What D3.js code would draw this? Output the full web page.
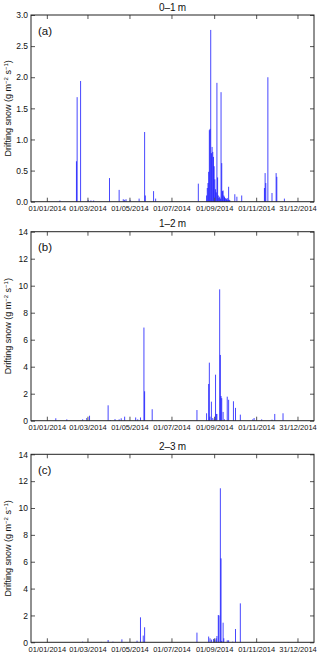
<!DOCTYPE html>
<html>
<head>
<meta charset="utf-8">
<script src="https://cdn.jsdelivr.net/npm/d3@7"></script>
<style>
  body { margin: 0; background: #fff; }
  svg { display: block; font-family: "Liberation Sans", Arial, sans-serif; }
</style>
</head>
<body>
<div id="chart"></div>
<script>
// Drifting snow flux, three height levels, 2014
const xTickDates = ["2014-01-01", "2014-03-01", "2014-05-01", "2014-07-01", "2014-09-01", "2014-11-01", "2014-12-31"];
const xDomain = ["2013-12-09", "2015-01-24"];

const ticksA = [0, 0.5, 1.0, 1.5, 2.0, 2.5, 3.0];
const ticksBC = [0, 2, 4, 6, 8, 10, 12, 14];

const titles = ["0\u20131\u2009m", "1\u20132\u2009m", "2\u20133\u2009m"];
const panelLabels = ["(a)", "(b)", "(c)"];

// [date, g m-2 s-1]
const snow01 = [
  ["2014-01-20", 0.02], ["2014-02-13", 0.65], ["2014-02-14", 1.68], ["2014-02-19", 1.94],
  ["2014-03-02", 0.03], ["2014-03-06", 0.02], ["2014-03-10", 0.02],
  ["2014-04-02", 0.38], ["2014-04-16", 0.19], ["2014-04-22", 0.04], ["2014-04-24", 0.03], ["2014-04-26", 0.04],
  ["2014-05-02", 0.03], ["2014-05-15", 0.05], ["2014-05-23", 1.12], ["2014-05-24", 0.10],
  ["2014-06-05", 0.17], ["2014-06-08", 0.05], ["2014-07-02", 0.01], ["2014-08-09", 0.29],
  ["2014-08-21", 0.10], ["2014-08-22", 0.22], ["2014-08-23", 0.30], ["2014-08-24", 0.48],
  ["2014-08-25", 1.15], ["2014-08-26", 1.17], ["2014-08-27", 2.76], ["2014-08-28", 0.78],
  ["2014-08-29", 0.88], ["2014-08-30", 0.80], ["2014-08-31", 0.72], ["2014-09-01", 0.57],
  ["2014-09-02", 0.36], ["2014-09-03", 0.20], ["2014-09-04", 0.15], ["2014-09-05", 1.91],
  ["2014-09-06", 0.39], ["2014-09-07", 0.10], ["2014-09-08", 0.06], ["2014-09-09", 0.08],
  ["2014-09-10", 0.05], ["2014-09-11", 1.76], ["2014-09-12", 0.62], ["2014-09-13", 0.17],
  ["2014-09-14", 0.18], ["2014-09-15", 0.10], ["2014-09-16", 0.08], ["2014-09-17", 0.06],
  ["2014-09-18", 0.05], ["2014-09-19", 0.04], ["2014-09-20", 0.06], ["2014-09-21", 0.03],
  ["2014-09-22", 0.24], ["2014-09-23", 0.03], ["2014-09-24", 0.02],
  ["2014-10-01", 0.12], ["2014-10-04", 0.08], ["2014-10-11", 0.10],
  ["2014-11-13", 0.22], ["2014-11-14", 0.46], ["2014-11-15", 0.30], ["2014-11-18", 2.00],
  ["2014-11-24", 0.14], ["2014-11-30", 0.46], ["2014-12-01", 0.40], ["2014-12-12", 0.05]
];

const snow12 = [
  ["2014-01-14", 0.18], ["2014-01-30", 0.10], ["2014-02-22", 0.10], ["2014-02-28", 0.20], ["2014-03-04", 0.37],
  ["2014-03-31", 1.14], ["2014-04-03", 0.05], ["2014-04-10", 0.12], ["2014-04-16", 0.10], ["2014-04-19", 0.18],
  ["2014-04-24", 0.30], ["2014-05-10", 0.24], ["2014-05-13", 0.10], ["2014-05-17", 0.24],
  ["2014-05-22", 6.90], ["2014-05-23", 2.18], ["2014-06-03", 0.85],
  ["2014-08-07", 0.79], ["2014-08-21", 0.55], ["2014-08-24", 2.72], ["2014-08-25", 4.30], ["2014-08-26", 0.30],
  ["2014-08-28", 1.41], ["2014-08-30", 0.20], ["2014-09-01", 0.10], ["2014-09-03", 3.41], ["2014-09-04", 0.50],
  ["2014-09-05", 0.50], ["2014-09-09", 9.73], ["2014-09-10", 4.87], ["2014-09-11", 1.83], ["2014-09-12", 1.67],
  ["2014-09-14", 0.65], ["2014-09-16", 0.10], ["2014-09-20", 1.78], ["2014-09-22", 1.55], ["2014-09-29", 1.44],
  ["2014-10-02", 0.95], ["2014-10-09", 0.45], ["2014-10-27", 0.10], ["2014-10-29", 0.20], ["2014-11-09", 0.10],
  ["2014-11-24", 0.08], ["2014-11-28", 0.50], ["2014-12-10", 0.55]
];

const snow23 = [
  ["2014-02-22", 0.05], ["2014-03-21", 0.03], ["2014-03-31", 0.17], ["2014-04-07", 0.05], ["2014-04-20", 0.22],
  ["2014-05-12", 0.12], ["2014-05-17", 1.86], ["2014-05-21", 0.50], ["2014-05-23", 1.12],
  ["2014-08-07", 0.72], ["2014-08-24", 0.43], ["2014-08-26", 0.30], ["2014-08-28", 0.20], ["2014-08-31", 0.25],
  ["2014-09-02", 0.20], ["2014-09-04", 0.30], ["2014-09-05", 0.47], ["2014-09-07", 2.03], ["2014-09-08", 2.00],
  ["2014-09-10", 11.47], ["2014-09-11", 6.25], ["2014-09-12", 0.10], ["2014-09-14", 1.46], ["2014-09-15", 0.30],
  ["2014-09-20", 0.15], ["2014-09-22", 0.15], ["2014-09-28", 0.05], ["2014-10-02", 0.99], ["2014-10-09", 2.90],
  ["2014-12-18", 0.02]
];

const parseDate = d3.timeParse("%Y-%m-%d");
const width = 320;
const height = 655;

const svg = d3.select("#chart")
  .append("svg")
  .attr("width", width)
  .attr("height", height);

const xScale = d3.scaleTime()
  .domain(xDomain.map(parseDate))
  .range([31, 314]);

const panels = [
  { data: snow01, top: 15, bottom: 201.7, max: 3, ticks: ticksA, fmt: d3.format(".1f") },
  { data: snow12, top: 231.7, bottom: 420.7, max: 14, ticks: ticksBC, fmt: d3.format("d") },
  { data: snow23, top: 454.3, bottom: 642.3, max: 14, ticks: ticksBC, fmt: d3.format("d") }
];

panels.forEach((p, i) => {
  const g = svg.append("g");
  const yScale = d3.scaleLinear().domain([0, p.max]).range([p.bottom, p.top]);
  const [x0, x1] = xScale.range();

  // bars (thin spikes)
  const bw = 1;
  g.selectAll("rect.bar")
    .data(p.data)
    .enter()
    .append("rect")
    .attr("class", "bar")
    .attr("x", d => xScale(parseDate(d[0])) - bw / 2)
    .attr("y", d => yScale(d[1]))
    .attr("width", bw)
    .attr("height", d => yScale(0) - yScale(d[1]))
    .attr("fill", "#0000ff")
    .attr("fill-opacity", 0.72);

  const tickVals = xTickDates.map(parseDate);

  // bottom axis with inward ticks
  const xb = g.append("g")
    .attr("transform", `translate(0,${p.bottom})`)
    .call(d3.axisBottom(xScale).tickValues(tickVals).tickSize(-4).tickPadding(4)
      .tickFormat(d3.timeFormat("%d/%m/%Y")));
  xb.select(".domain").remove();
  xb.selectAll("text").style("font-size", "7.5px").attr("fill", "#111");
  xb.selectAll("line").attr("stroke", "#555");

  const xt = g.append("g")
    .attr("transform", `translate(0,${p.top})`)
    .call(d3.axisTop(xScale).tickValues(tickVals).tickSize(-4).tickFormat(""));
  xt.select(".domain").remove();
  xt.selectAll("line").attr("stroke", "#555");

  const yl = g.append("g")
    .attr("transform", `translate(${x0},0)`)
    .call(d3.axisLeft(yScale).tickValues(p.ticks).tickSize(-4).tickPadding(3).tickFormat(p.fmt));
  yl.select(".domain").remove();
  yl.selectAll("text").style("font-size", "8.5px").attr("fill", "#111");
  yl.selectAll("line").attr("stroke", "#555");

  const yr = g.append("g")
    .attr("transform", `translate(${x1},0)`)
    .call(d3.axisRight(yScale).tickValues(p.ticks).tickSize(-4).tickFormat(""));
  yr.select(".domain").remove();
  yr.selectAll("line").attr("stroke", "#555");

  // frame
  g.append("rect")
    .attr("x", x0)
    .attr("y", p.top)
    .attr("width", x1 - x0)
    .attr("height", p.bottom - p.top)
    .attr("fill", "none")
    .attr("stroke", "#222")
    .attr("stroke-width", 1);

  // title
  g.append("text")
    .attr("x", (x0 + x1) / 2)
    .attr("y", p.top - 4.5)
    .attr("text-anchor", "middle")
    .style("font-size", "10px")
    .attr("fill", "#111")
    .text(titles[i]);

  // panel letter
  g.append("text")
    .attr("x", x0 + 7)
    .attr("y", p.top + 19.5)
    .style("font-size", "11.5px")
    .attr("fill", "#111")
    .text(panelLabels[i]);

  // y label
  const lab = g.append("text")
    .attr("transform", `translate(11,${(p.top + p.bottom) / 2}) rotate(-90)`)
    .attr("text-anchor", "middle")
    .style("font-size", "9px")
    .attr("fill", "#111");
  lab.append("tspan").text("Drifting snow (g m");
  lab.append("tspan").attr("dy", -3).style("font-size", "6px").text("\u22122");
  lab.append("tspan").attr("dy", 3).text(" s");
  lab.append("tspan").attr("dy", -3).style("font-size", "6px").text("\u22121");
  lab.append("tspan").attr("dy", 3).text(")");
});
</script>
</body>
</html>
